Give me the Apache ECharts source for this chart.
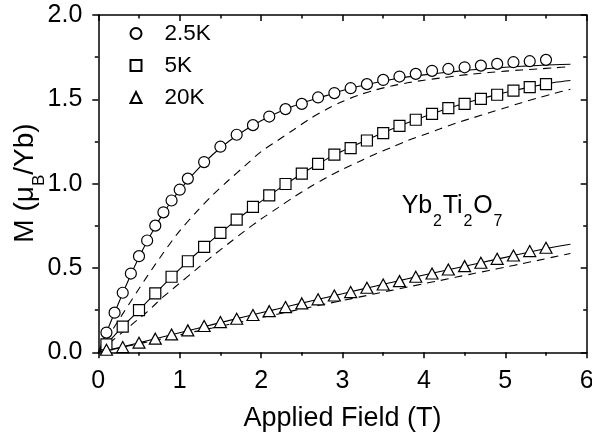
<!DOCTYPE html>
<html><head><meta charset="utf-8">
<script src="https://cdn.jsdelivr.net/npm/echarts@6/dist/echarts.min.js"></script>
<style>html,body{margin:0;padding:0;background:#fff}#c{width:592px;height:435px}</style>
</head><body><div id="c"></div>
<script>
const FONT = '"Liberation Sans", Arial, Helvetica, sans-serif';
const seriesNames = ['2.5K', '5K', '20K'];

// measured points, 2.5 K (circles)
const field25 = [0.1,0.2,0.3,0.4,0.5,0.6,0.7,0.8,0.9,1.0,1.1,1.3,1.5,1.7,1.9,2.1,2.3,2.5,2.7,2.9,3.1,3.3,3.5,3.7,3.9,4.1,4.3,4.5,4.7,4.9,5.1,5.3,5.5];
const m25 = [0.117,0.235,0.353,0.467,0.57,0.663,0.751,0.83,0.90,0.964,1.03,1.128,1.219,1.29,1.347,1.398,1.442,1.473,1.511,1.537,1.566,1.59,1.615,1.635,1.651,1.669,1.68,1.69,1.70,1.71,1.72,1.726,1.734];
// measured points, 5 K (squares) and 20 K (triangles)
const field5 = [0.1,0.3,0.5,0.7,0.9,1.1,1.3,1.5,1.7,1.9,2.1,2.3,2.5,2.7,2.9,3.1,3.3,3.5,3.7,3.9,4.1,4.3,4.5,4.7,4.9,5.1,5.3,5.5];
const m5 = [0.047,0.152,0.25,0.349,0.448,0.54,0.625,0.708,0.787,0.862,0.931,0.998,1.059,1.117,1.172,1.211,1.256,1.30,1.343,1.379,1.414,1.448,1.473,1.503,1.527,1.552,1.572,1.59];
const field20 = [0.1,0.3,0.5,0.7,0.9,1.1,1.3,1.5,1.7,1.9,2.1,2.3,2.5,2.7,2.9,3.1,3.3,3.5,3.7,3.9,4.1,4.3,4.5,4.7,4.9,5.1,5.3,5.5];
const m20 = [0.015,0.031,0.057,0.081,0.106,0.13,0.156,0.179,0.199,0.221,0.244,0.268,0.29,0.314,0.337,0.357,0.383,0.402,0.422,0.448,0.467,0.491,0.511,0.531,0.554,0.574,0.60,0.62];

// curves (solid = fit, dashed = calculation)
const curveField = [0,0.1,0.2,0.3,0.4,0.5,0.6,0.7,0.8,0.9,1.0,1.2,1.4,1.6,1.8,2.0,2.2,2.4,2.6,2.8,3.0,3.2,3.4,3.6,3.8,4.0,4.2,4.4,4.6,4.8,5.0,5.2,5.4,5.6,5.8];
const fit25 = [0,0.118,0.235,0.35,0.46,0.563,0.658,0.745,0.825,0.897,0.962,1.075,1.17,1.25,1.317,1.373,1.42,1.46,1.493,1.522,1.552,1.577,1.598,1.618,1.633,1.645,1.656,1.666,1.675,1.683,1.69,1.696,1.701,1.705,1.708];
const fit5 = [0,0.05,0.101,0.152,0.201,0.25,0.30,0.349,0.398,0.446,0.493,0.583,0.667,0.747,0.823,0.895,0.963,1.028,1.088,1.144,1.193,1.238,1.281,1.322,1.361,1.397,1.431,1.462,1.49,1.516,1.54,1.562,1.582,1.60,1.612];
const fit20 = [0,0.011,0.022,0.033,0.045,0.056,0.068,0.08,0.092,0.104,0.116,0.14,0.164,0.188,0.211,0.234,0.257,0.28,0.303,0.325,0.347,0.37,0.392,0.414,0.436,0.458,0.479,0.50,0.521,0.542,0.563,0.584,0.605,0.624,0.641];
const calc25 = [0,0.076,0.153,0.228,0.303,0.377,0.45,0.521,0.59,0.657,0.72,0.83,0.93,1.02,1.105,1.19,1.255,1.32,1.385,1.44,1.487,1.525,1.555,1.579,1.598,1.613,1.626,1.639,1.65,1.659,1.667,1.674,1.68,1.687,1.694];
const calc5 = [0,0.04,0.08,0.12,0.16,0.20,0.24,0.285,0.33,0.37,0.41,0.49,0.57,0.645,0.72,0.79,0.855,0.92,0.98,1.035,1.085,1.13,1.175,1.215,1.255,1.29,1.325,1.36,1.39,1.42,1.45,1.48,1.508,1.535,1.56];
const calc20 = [0,0.01,0.02,0.03,0.041,0.051,0.061,0.072,0.082,0.093,0.103,0.124,0.144,0.165,0.185,0.206,0.226,0.247,0.267,0.287,0.307,0.327,0.347,0.367,0.387,0.407,0.426,0.446,0.466,0.485,0.505,0.525,0.545,0.566,0.586];

const xTitle = 'Applied Field (T)';
const yTitlePieces = [{t:'M ('},{t:'μ'},{t:'B',sub:true},{t:'/Yb)'}];
const formulaPieces = [{t:'Yb'},{t:'2',sub:true},{t:'Ti'},{t:'2',sub:true},{t:'O'},{t:'7',sub:true}];

const pairs = (xs, ys) => xs.map((x, i) => [x, ys[i]]);
const mctx = document.createElement('canvas').getContext('2d');
function tw(s, size) { mctx.font = size + 'px ' + FONT; return mctx.measureText(s).width; }
function composite(pieces, main, sub, subDy, gap) {
  let x = 0; const children = [];
  pieces.forEach(p => {
    const size = p.sub ? sub : main;
    if (p.sub) x += gap;
    children.push({type:'text', x:x, y:p.sub ? subDy : 0,
      style:{text:p.t, fontSize:size, fontFamily:FONT, fill:'#000', align:'left', verticalAlign:'middle'}});
    x += tw(p.t, size);
    if (p.sub) x += gap;
  });
  return {children, width:x};
}

const blk = '#000';
const axBase = (pos, range, inside, showLabel) => ({
  type:'value', position:pos, min:0, max:range[0], interval:range[1],
  axisLine:{show:true, onZero:false, lineStyle:{color:blk, width:1.5}},
  axisTick:{show:true, inside:inside, length:6, lineStyle:{color:blk, width:1.5}},
  minorTick:{show:true, splitNumber:2, length:3.5, lineStyle:{color:blk, width:1.5}},
  splitLine:{show:false}, minorSplitLine:{show:false},
  axisLabel:{show:showLabel, color:blk, fontSize:25, fontFamily:FONT, margin:16},
});

const yT = composite(yTitlePieces, 28, 17, 14, 0);
const fm = composite(formulaPieces, 25, 16, 16, 0.8);

const chart = echarts.init(document.getElementById('c'), null, {renderer:'canvas'});
const xA0 = axBase('bottom', [6,1], false, true);
Object.assign(xA0, {name:xTitle, nameLocation:'middle', nameGap:53, nameMoveOverlap:false,
  nameTextStyle:{color:blk, fontSize:27, fontFamily:FONT}});
const yA0 = axBase('left', [2,0.5], false, true);
yA0.axisLabel.formatter = v => v.toFixed(1);

const scatterStyle = {color:'#fff', borderColor:blk, borderWidth:1.2, opacity:1};
const option = {
  animation:false,
  backgroundColor:'#fff',
  grid:{left:98.3, right:5.3, top:15, bottom:82.7, containLabel:false, outerBoundsMode:'none'},
  xAxis:[xA0, axBase('top', [6,1], true, false)],
  yAxis:[yA0, axBase('right', [2,0.5], true, false)],
  legend:{
    data:seriesNames, orient:'vertical', left:124.5, top:17, itemWidth:11, itemHeight:11, itemGap:9,
    selectedMode:false,
    formatter: n => '{g|}' + n,
    textStyle:{fontSize:22.5, color:blk, fontFamily:FONT, rich:{g:{width:18}}}
  },
  series:[
    {type:'line', data:pairs(curveField, calc25), symbol:'none', smooth:0.3, silent:true, z:2,
      lineStyle:{color:blk, width:1.1, type:[8,6]}},
    {type:'line', data:pairs(curveField, calc5), symbol:'none', smooth:0.3, silent:true, z:2,
      lineStyle:{color:blk, width:1.1, type:[8,6]}},
    {type:'line', data:pairs(curveField, calc20), symbol:'none', smooth:0.3, silent:true, z:2,
      lineStyle:{color:blk, width:1.1, type:[8,6]}},
    {type:'line', data:pairs(curveField, fit25), symbol:'none', smooth:0.3, silent:true, z:3,
      lineStyle:{color:blk, width:1.1}},
    {type:'line', data:pairs(curveField, fit5), symbol:'none', smooth:0.3, silent:true, z:3,
      lineStyle:{color:blk, width:1.1}},
    {type:'line', data:pairs(curveField, fit20), symbol:'none', smooth:0.3, silent:true, z:3,
      lineStyle:{color:blk, width:1.1}},
    {name:seriesNames[0], type:'scatter', data:pairs(field25, m25), symbol:'circle', symbolSize:11,
      itemStyle:scatterStyle, z:5, silent:true},
    {name:seriesNames[1], type:'scatter', data:pairs(field5, m5), symbol:'rect', symbolSize:11,
      itemStyle:scatterStyle, z:5, silent:true},
    {name:seriesNames[2], type:'scatter', data:pairs(field20, m20), symbol:'triangle', symbolSize:[12,11],
      itemStyle:scatterStyle, z:5, silent:true}
  ],
  graphic:[
    {type:'group', x:25, y:183, rotation:Math.PI/2, silent:true,
      children:yT.children.map(c => Object.assign(c, {x:c.x - yT.width/2}))},
    {type:'group', x:401.7, y:206, silent:true, children:fm.children}
  ]
};
chart.setOption(option);
</script>
</body></html>
